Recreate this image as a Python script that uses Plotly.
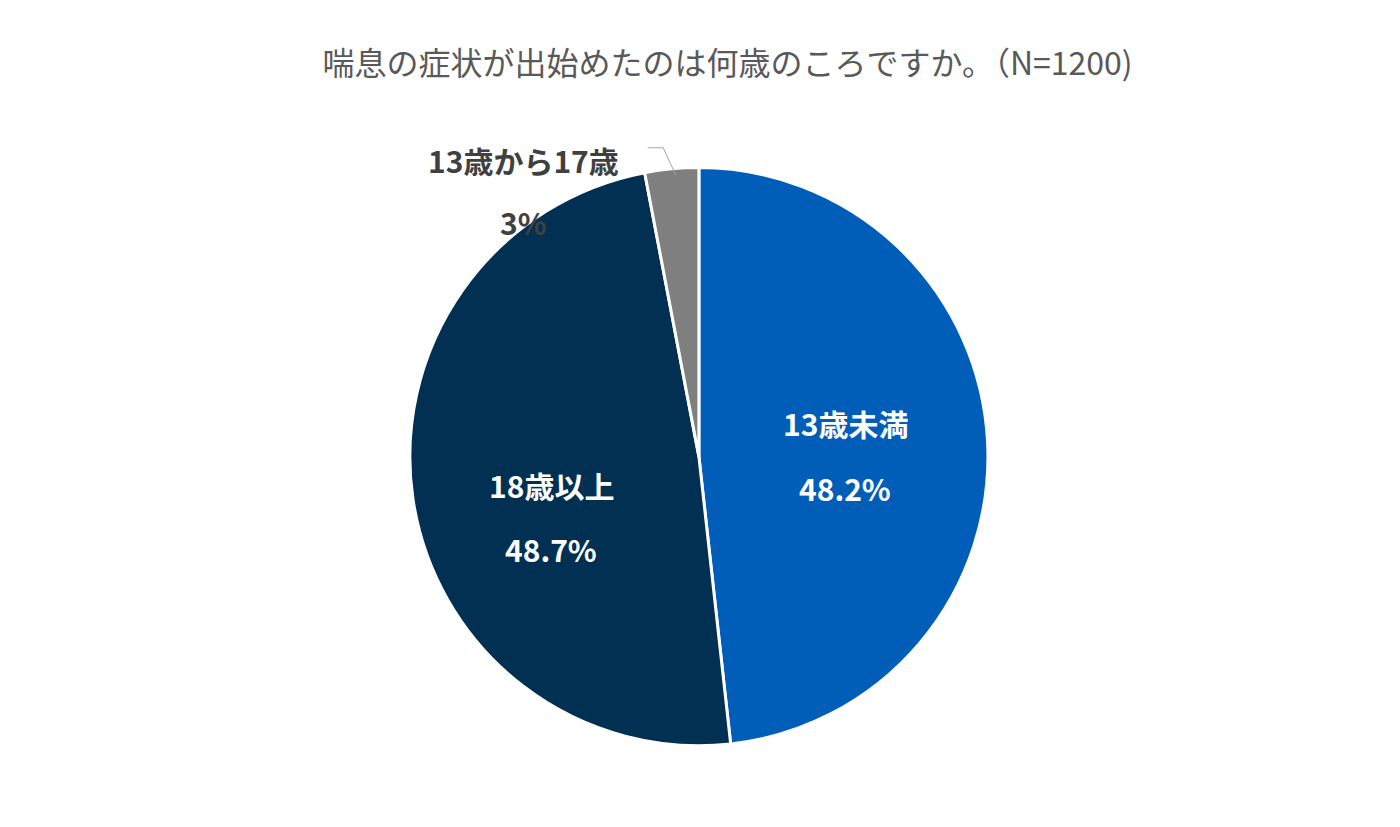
import plotly.graph_objects as go

labels = ['13歳未満', '18歳以上', '13歳から17歳']
values = [48.2, 48.7, 3]
pct_text = ['48.2%', '48.7%', '3%']
colors = ['#005EB8', '#023052', '#7F7F7F']
label_colors = ['white', 'white', '#404040']
# label anchor points (paper coords): name line, percent line
label_x = [0.598, 0.388, 0.368]
name_y = [0.498, 0.423, 0.845]
pct_y = [0.420, 0.346, 0.770]

font = 'Noto Sans CJK JP'

fig = go.Figure()
fig.add_trace(go.Pie(
    labels=labels,
    values=values,
    sort=False,
    direction='clockwise',
    rotation=0,
    marker=dict(colors=colors, line=dict(color='white', width=3)),
    textinfo='none',
    domain=dict(x=[0.287, 0.700], y=[0.108, 0.807]),
    showlegend=False,
    hoverinfo='label+percent',
))

for lab, pct, c, x, y1, y2 in zip(labels, pct_text, label_colors, label_x, name_y, pct_y):
    fig.add_annotation(x=x, y=y1, xref='paper', yref='paper', text=f'<b>{lab}</b>',
                       showarrow=False, font=dict(family=font, size=30, color=c))
    fig.add_annotation(x=x, y=y2, xref='paper', yref='paper', text=f'<b>{pct}</b>',
                       showarrow=False, font=dict(family=font, size=30, color=c))

# leader line for the small slice
fig.add_shape(type='path', xref='paper', yref='paper',
              path='M 0.457 0.831 L 0.468 0.831 L 0.477 0.798',
              line=dict(color='#A6A6A6', width=1))

fig.update_layout(
    title=dict(text='喘息の症状が出始めたのは何歳のころですか。（N=1200)',
               x=0.514, xanchor='center', y=0.933, yanchor='middle',
               font=dict(family=font, size=32, color='#595959')),
    width=1400, height=827,
    margin=dict(l=0, r=0, t=0, b=0),
    paper_bgcolor='white',
)

fig.write_html('out.html')
